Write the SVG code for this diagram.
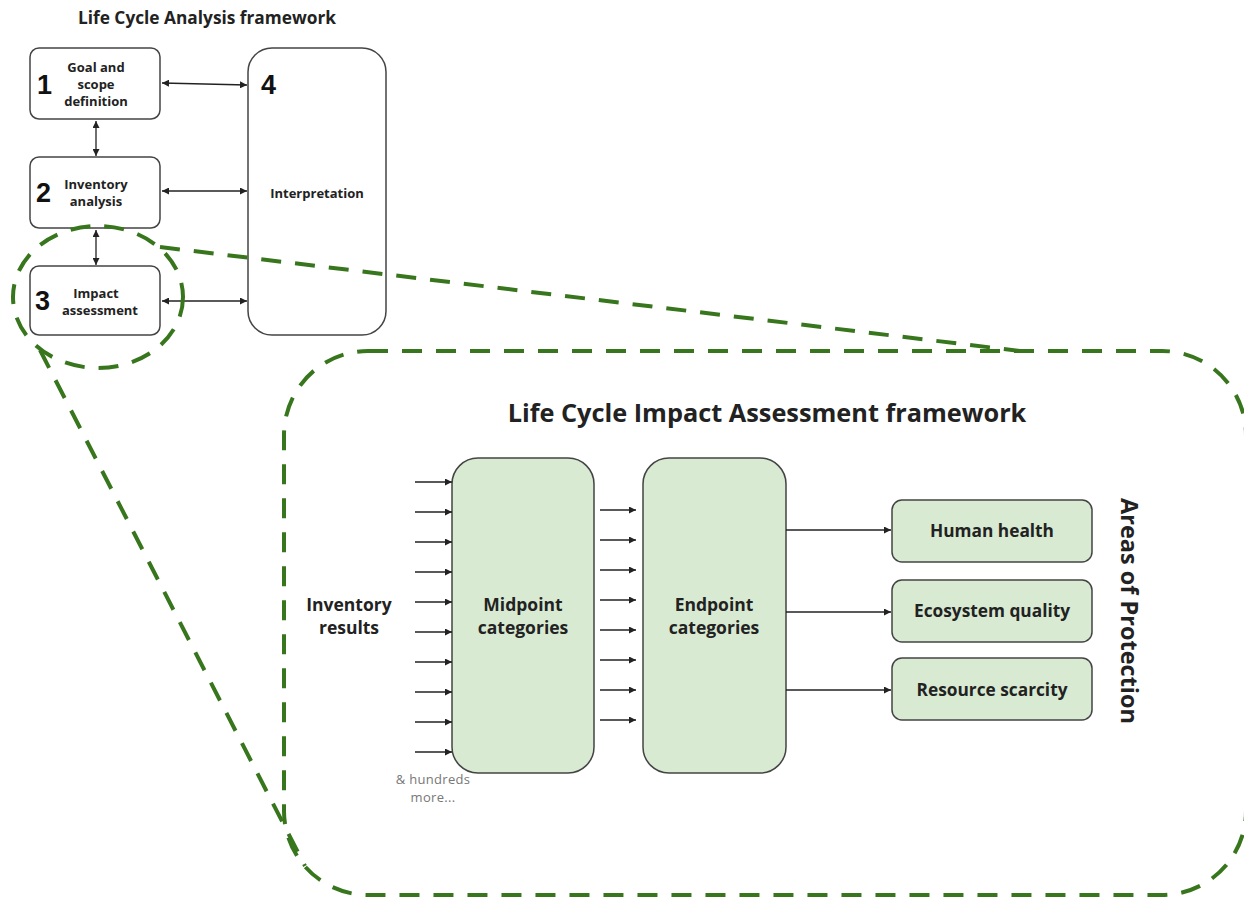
<svg xmlns="http://www.w3.org/2000/svg" width="1244" height="897" viewBox="0 0 1244 897">
  <style>
    .box { fill: #ffffff; stroke: #444444; stroke-width: 1.5; }
    .green { fill: #d9ead3; stroke: #444444; stroke-width: 1.5; }
    .lbl { font-family: "Open Sans", Lato, "Liberation Sans", sans-serif; font-weight: bold; fill: #222222; text-anchor: middle; }
    .num { font-family: "Liberation Sans", Arial, sans-serif; font-weight: bold; fill: #111111; }
    .note { font-family: "Open Sans", Lato, "Liberation Sans", sans-serif; fill: #777777; text-anchor: middle; }
    .link { fill: none; stroke: #222222; stroke-width: 1.3; }
    .dash { fill: none; stroke: #38761d; stroke-width: 4; stroke-dasharray: 20 14; }
  </style>
  <defs>
    <marker id="head" viewBox="0 0 10 10" refX="10" refY="5" markerWidth="7" markerHeight="7" markerUnits="userSpaceOnUse" orient="auto-start-reverse">
      <path d="M0,0 L10,5 L0,10 z" fill="#222222"/>
    </marker>
  </defs>

  <rect width="1244" height="897" fill="#ffffff"/>

  <!-- upper framework -->
  <text class="lbl" x="207" y="24" font-size="17.3">Life Cycle Analysis framework</text>

  <g id="node-goal">
    <rect class="box" x="30" y="48" width="130" height="71" rx="9"/>
    <text class="num" x="37" y="94" font-size="27">1</text>
    <text class="lbl" x="96" y="72" font-size="13">Goal and</text>
    <text class="lbl" x="96" y="89" font-size="13">scope</text>
    <text class="lbl" x="96" y="106" font-size="13">definition</text>
  </g>
  <g id="node-inventory">
    <rect class="box" x="30" y="157" width="130" height="71" rx="9"/>
    <text class="num" x="36" y="202" font-size="27">2</text>
    <text class="lbl" x="96" y="189" font-size="13">Inventory</text>
    <text class="lbl" x="96" y="206" font-size="13">analysis</text>
  </g>
  <g id="node-impact">
    <rect class="box" x="30" y="266" width="130" height="69" rx="9"/>
    <text class="num" x="35" y="310" font-size="27">3</text>
    <text class="lbl" x="96" y="298" font-size="13">Impact</text>
    <text class="lbl" x="100" y="315" font-size="13">assessment</text>
  </g>
  <g id="node-interpretation">
    <rect class="box" x="248" y="48" width="138" height="287" rx="24"/>
    <text class="num" x="261" y="94" font-size="27">4</text>
    <text class="lbl" x="317" y="198" font-size="13">Interpretation</text>
  </g>

  <!-- impact assessment detail -->
  <text class="lbl" x="767" y="422" font-size="25.3">Life Cycle Impact Assessment framework</text>

  <g id="node-inventory-results">
    <text class="lbl" x="349" y="611" font-size="17.5">Inventory</text>
    <text class="lbl" x="349" y="634" font-size="17.5">results</text>
    <text class="note" x="433" y="784" font-size="13" letter-spacing="0.3">&amp; hundreds</text>
    <text class="note" x="433" y="802" font-size="13" letter-spacing="0.3">more...</text>
  </g>
  <g id="node-midpoint">
    <rect class="green" x="452" y="458" width="142" height="315" rx="26"/>
    <text class="lbl" x="523" y="611" font-size="17.5">Midpoint</text>
    <text class="lbl" x="523" y="634" font-size="17.5">categories</text>
  </g>
  <g id="node-endpoint">
    <rect class="green" x="643" y="458" width="143" height="315" rx="26"/>
    <text class="lbl" x="714" y="611" font-size="17.5">Endpoint</text>
    <text class="lbl" x="714" y="634" font-size="17.5">categories</text>
  </g>
  <g id="node-human-health">
    <rect class="green" x="892" y="500" width="200" height="62" rx="10"/>
    <text class="lbl" x="992" y="537" font-size="17.3">Human health</text>
  </g>
  <g id="node-ecosystem">
    <rect class="green" x="892" y="580" width="200" height="62" rx="10"/>
    <text class="lbl" x="992" y="617" font-size="17.3">Ecosystem quality</text>
  </g>
  <g id="node-resources">
    <rect class="green" x="892" y="658" width="200" height="62" rx="10"/>
    <text class="lbl" x="992" y="696" font-size="17.3">Resource scarcity</text>
  </g>
  <g id="node-areas">
    <text class="lbl" transform="translate(1121 611) rotate(90)" x="0" y="0" font-size="23.5">Areas of Protection</text>
  </g>

  <g id="connectors">
    <!-- framework phases -->
    <line class="link" x1="162" y1="83" x2="247" y2="85" marker-start="url(#head)" marker-end="url(#head)"/>
    <line class="link" x1="162" y1="191" x2="247" y2="191" marker-start="url(#head)" marker-end="url(#head)"/>
    <line class="link" x1="162" y1="301" x2="247" y2="301" marker-start="url(#head)" marker-end="url(#head)"/>
    <line class="link" x1="96" y1="121" x2="96" y2="156" marker-start="url(#head)" marker-end="url(#head)"/>
    <line class="link" x1="96" y1="230" x2="96" y2="265" marker-start="url(#head)" marker-end="url(#head)"/>

    <!-- inventory results into midpoints -->
    <g marker-end="url(#head)">
      <line class="link" x1="415" y1="482" x2="452" y2="482"/>
      <line class="link" x1="415" y1="512" x2="452" y2="512"/>
      <line class="link" x1="415" y1="542" x2="452" y2="542"/>
      <line class="link" x1="415" y1="572" x2="452" y2="572"/>
      <line class="link" x1="415" y1="602" x2="452" y2="602"/>
      <line class="link" x1="415" y1="632" x2="452" y2="632"/>
      <line class="link" x1="415" y1="662" x2="452" y2="662"/>
      <line class="link" x1="415" y1="692" x2="452" y2="692"/>
      <line class="link" x1="415" y1="722" x2="452" y2="722"/>
      <line class="link" x1="415" y1="752" x2="452" y2="752"/>
    </g>
    <!-- midpoints into endpoints -->
    <g marker-end="url(#head)">
      <line class="link" x1="600" y1="510" x2="636" y2="510"/>
      <line class="link" x1="600" y1="540" x2="636" y2="540"/>
      <line class="link" x1="600" y1="570" x2="636" y2="570"/>
      <line class="link" x1="600" y1="600" x2="636" y2="600"/>
      <line class="link" x1="600" y1="630" x2="636" y2="630"/>
      <line class="link" x1="600" y1="660" x2="636" y2="660"/>
      <line class="link" x1="600" y1="690" x2="636" y2="690"/>
      <line class="link" x1="600" y1="720" x2="636" y2="720"/>
    </g>
    <!-- endpoints into areas of protection -->
    <g marker-end="url(#head)">
      <line class="link" x1="786" y1="530" x2="891" y2="530"/>
      <line class="link" x1="786" y1="612" x2="891" y2="612"/>
      <line class="link" x1="786" y1="690" x2="891" y2="690"/>
    </g>
  </g>

  <!-- zoom callout: phase 3 expanded -->
  <g id="callout">
    <ellipse class="dash" cx="98" cy="297" rx="85" ry="71"/>
    <rect class="dash" x="284" y="351" width="962" height="544" rx="84"/>
    <line class="dash" x1="160" y1="247" x2="1020" y2="351"/>
    <line class="dash" x1="40" y1="350" x2="305" y2="866"/>
  </g>
</svg>
